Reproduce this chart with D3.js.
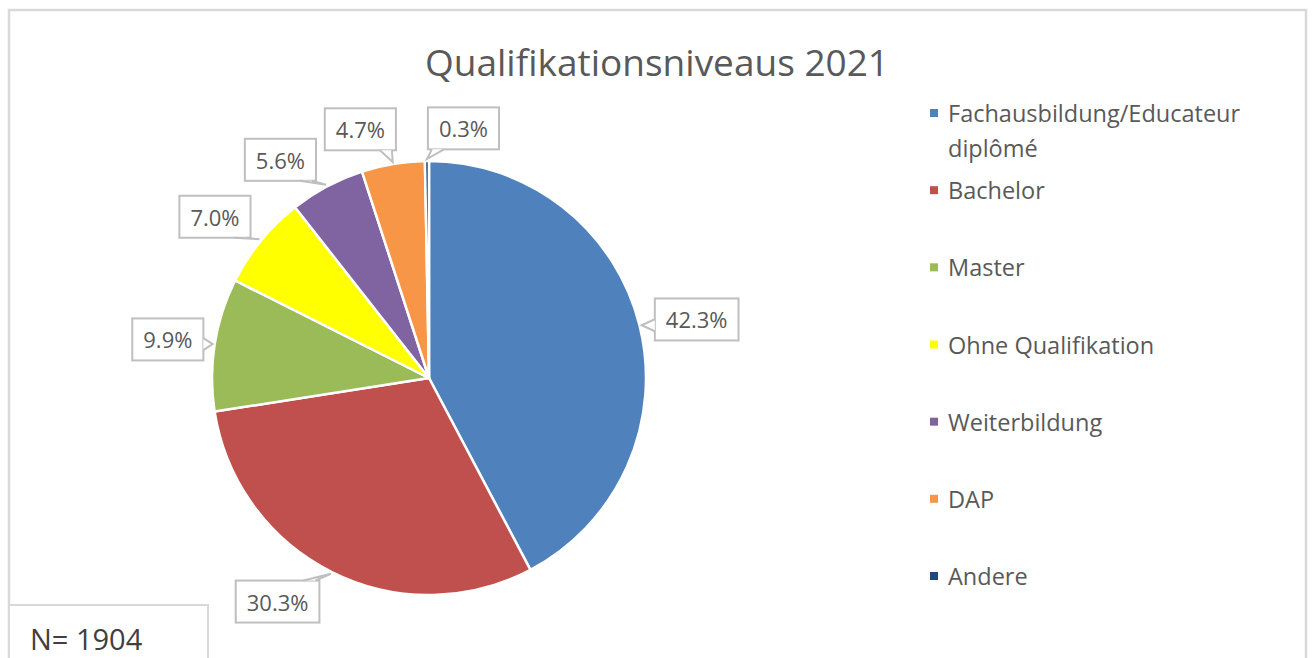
<!DOCTYPE html>
<html lang="de">
<head>
    <meta charset="utf-8">
    <title>Qualifikationsniveaus 2021</title>
    <script src="https://d3js.org/d3.v7.min.js"></script>
    <style>
        body, html {
            margin: 0;
            padding: 0;
            background: #ffffff;
        }
        svg text {
            font-family: "Open Sans", "Noto Sans", sans-serif;
        }
    </style>
</head>
<body>
<div id="chart"></div>

<script type="text/javascript">
    // Data
    var categories = ["Fachausbildung/Educateur diplômé", "Bachelor", "Master",
        "Ohne Qualifikation", "Weiterbildung", "DAP", "Andere"];
    var legendLines = [["Fachausbildung/Educateur", "diplômé"], ["Bachelor"], ["Master"],
        ["Ohne Qualifikation"], ["Weiterbildung"], ["DAP"], ["Andere"]];
    var shares = [42.3, 30.3, 9.9, 7.0, 5.6, 4.7, 0.3];
    var colors = ["#4f81bd", "#c0504d", "#9bbb59", "#ffff00", "#8064a2", "#f79646", "#1f497d"];
    var title = "Qualifikationsniveaus 2021";
    var sampleNote = "N= 1904";

    // Label placement (degrees nudge from slice middle, distance from centre)
    var labelNudge = [1.6, 7.5, -0.5, -2.3, -6.2, -5.9, 8.4];
    var labelDist = [274, 270, 264, 268, 264, 258, 252];

    var w = 1314;
    var h = 658;
    var cx = 429, cy = 378, r = 217;

    var svg = d3.select("#chart")
        .append("svg")
        .attr("width", w)
        .attr("height", h);

    // outer chart frame
    svg.append("rect")
        .attr("x", 9).attr("y", 10)
        .attr("width", 1297).attr("height", 670)
        .attr("fill", "#ffffff")
        .attr("stroke", "#d9d9d9")
        .attr("stroke-width", 2.5);

    // title
    svg.append("text")
        .attr("x", 657).attr("y", 76)
        .attr("text-anchor", "middle")
        .attr("font-size", 37)
        .attr("fill", "#595959")
        .text(title);

    // Pie
    var pie = d3.pie().sort(null).value(function (d) { return d; });
    var arcs = pie(shares);
    var arc = d3.arc().innerRadius(0).outerRadius(r);

    var g = svg.append("g").attr("transform", "translate(" + cx + "," + cy + ")");

    g.selectAll("path.slice")
        .data(arcs)
        .enter()
        .append("path")
        .attr("class", "slice")
        .attr("d", arc)
        .attr("fill", function (d, i) { return colors[i]; })
        .attr("stroke", "#ffffff")
        .attr("stroke-width", 2.5)
        .attr("stroke-linejoin", "round");

    // Data labels with callout boxes
    var labelsG = g.append("g");
    arcs.forEach(function (d, i) {
        var mid = (d.startAngle + d.endAngle) / 2;
        var la = mid + labelNudge[i] * Math.PI / 180;
        var lx = Math.sin(la) * labelDist[i];
        var ly = -Math.cos(la) * labelDist[i];
        var tx = Math.sin(mid) * (r + 2);
        var ty = -Math.cos(mid) * (r + 2);

        var lg = labelsG.append("g");
        var txt = lg.append("text")
            .attr("x", lx).attr("y", ly)
            .attr("text-anchor", "middle")
            .attr("dominant-baseline", "central")
            .attr("font-size", 22)
            .attr("fill", "#595959")
            .text(shares[i].toFixed(1) + "%");
        var tw = txt.node().getComputedTextLength();
        var bw = tw + 22, bh = 42;
        var x0 = lx - bw / 2, x1 = lx + bw / 2, y0 = ly - bh / 2, y1 = ly + bh / 2;

        lg.insert("rect", "text")
            .attr("x", x0).attr("y", y0)
            .attr("width", bw).attr("height", bh)
            .attr("fill", "#ffffff")
            .attr("stroke", "#bfbfbf")
            .attr("stroke-width", 2);

        // pointer side
        var b1, b2, half = 6;
        var clamp = function (v, a, b) { return Math.max(a, Math.min(b, v)); };
        if (ty > y1) {
            var px = clamp(tx, x0 + 10, x1 - 10);
            b1 = [px - half, y1]; b2 = [px + half, y1];
        } else if (ty < y0) {
            var px2 = clamp(tx, x0 + 10, x1 - 10);
            b1 = [px2 - half, y0]; b2 = [px2 + half, y0];
        } else if (tx < x0) {
            var py = clamp(ty, y0 + 10, y1 - 10);
            b1 = [x0, py - half]; b2 = [x0, py + half];
        } else {
            var py2 = clamp(ty, y0 + 10, y1 - 10);
            b1 = [x1, py2 - half]; b2 = [x1, py2 + half];
        }
        lg.append("path")
            .attr("d", "M" + b1 + "L" + [tx, ty] + "L" + b2 + "Z")
            .attr("fill", "#ffffff")
            .attr("stroke", "none");
        lg.append("path")
            .attr("d", "M" + b1 + "L" + [tx, ty] + "L" + b2)
            .attr("fill", "none")
            .attr("stroke", "#bfbfbf")
            .attr("stroke-width", 2);
    });

    // Legend
    var legendY = d3.scalePoint().domain(categories).range([113, 576]);
    var legend = svg.append("g");
    categories.forEach(function (c, i) {
        var y = legendY(c);
        legend.append("rect")
            .attr("x", 930).attr("y", y - 4)
            .attr("width", 8).attr("height", 8)
            .attr("fill", colors[i]);
        legend.append("text")
            .attr("x", 948).attr("y", y)
            .attr("dominant-baseline", "central")
            .attr("font-size", 23.5)
            .attr("fill", "#595959")
            .selectAll("tspan")
            .data(legendLines[i])
            .enter()
            .append("tspan")
            .attr("x", 948)
            .attr("dy", function (t, j) { return j === 0 ? 0 : 35; })
            .text(function (t) { return t; });
    });

    // N note box
    svg.append("rect")
        .attr("x", 9).attr("y", 605)
        .attr("width", 199).attr("height", 80)
        .attr("fill", "#ffffff")
        .attr("stroke", "#d9d9d9")
        .attr("stroke-width", 2);
    svg.append("text")
        .attr("x", 30).attr("y", 650)
        .attr("font-size", 29)
        .attr("fill", "#404040")
        .text(sampleNote);
</script>
</body>
</html>
